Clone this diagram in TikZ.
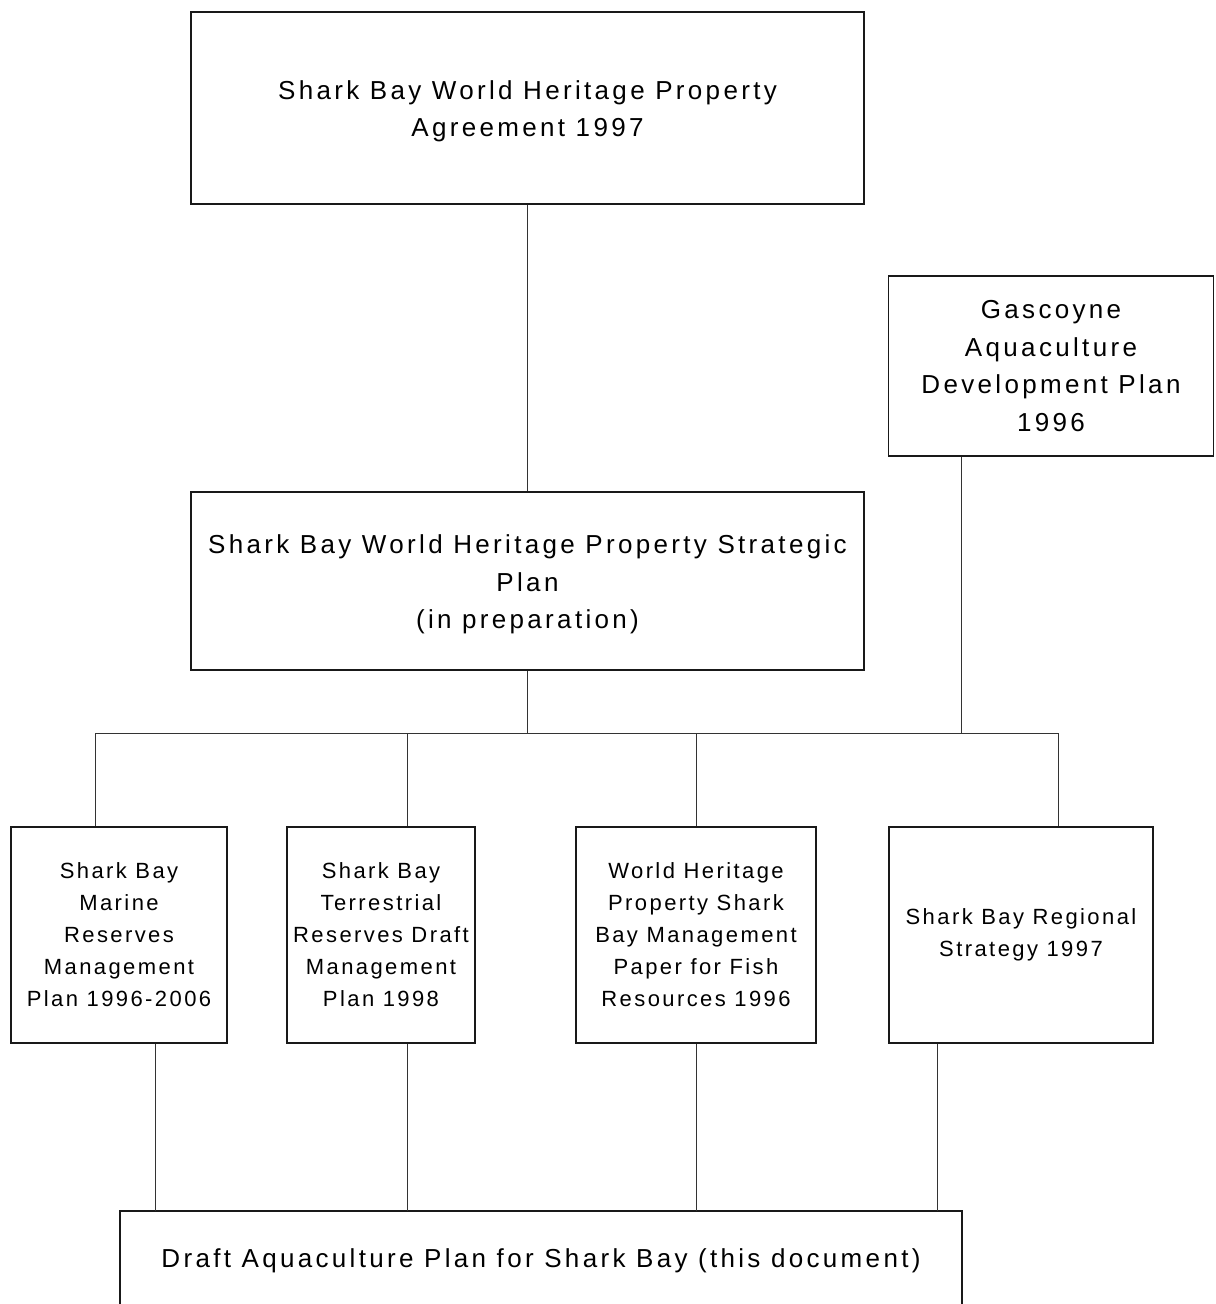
\documentclass[tikz,border=0pt]{standalone}
\usepackage{fontspec}
\setmainfont{Liberation Sans}
\newfontfamily\bigf[LetterSpace=12.8]{Liberation Sans}
\newfontfamily\smallf[LetterSpace=11]{Liberation Sans}
\newcommand{\downstrut}{\rule{0pt}{25.5bp}}
\begin{document}
\begin{tikzpicture}[x=1bp,y=-1bp,
  bigbox/.style={draw=black!90, line width=1.6bp, inner sep=0pt, align=center,
    font=\bigf\fontsize{26bp}{37.6bp}\selectfont},
  smallbox/.style={draw=black!90, line width=1.6bp, inner sep=0pt, align=center,
    font=\smallf\fontsize{22bp}{32bp}\selectfont},
  conn/.style={draw=black!80, line width=1bp}]
\useasboundingbox (0,0) rectangle (1215,1304);
\begin{scope}
\clip (0,0) rectangle (1215,1304);
\node[bigbox, minimum width=673bp, minimum height=192bp] (top) at (527.5,108)
  {\downstrut Shark Bay World Heritage Property\\Agreement 1997};
\node[bigbox, minimum width=325bp, minimum height=180bp] (gas) at (1051,366)
  {Gascoyne\\Aquaculture\\Development Plan\\1996};
\node[bigbox, minimum width=673bp, minimum height=178bp] (strat) at (527.5,581)
  {\downstrut Shark Bay World Heritage Property Strategic\\Plan\\(in preparation)};
\node[smallbox, minimum width=216bp, minimum height=216bp] (b1) at (119,935)
  {Shark Bay\\Marine\\Reserves\\Management\\Plan 1996-2006};
\node[smallbox, minimum width=188bp, minimum height=216bp] (b2) at (381,935)
  {Shark Bay\\Terrestrial\\Reserves Draft\\Management\\Plan 1998};
\node[smallbox, minimum width=240bp, minimum height=216bp] (b3) at (696,935)
  {World Heritage\\Property Shark\\Bay Management\\Paper for Fish\\Resources 1996};
\node[smallbox, minimum width=264bp, minimum height=216bp] (b4) at (1021,935)
  {Shark Bay Regional\\Strategy 1997};
\node[bigbox, minimum width=842bp, minimum height=99bp] (doc) at (541,1260.5)
  {Draft Aquaculture Plan for Shark Bay (this document)};
\end{scope}
% bus coordinates
\coordinate (bus) at (527.5,733);
\coordinate (d1) at (95,733);
\coordinate (d2) at (407,733);
\coordinate (d3) at (696,733);
\coordinate (d4) at (1058,733);
\coordinate (g) at (961,733);
\coordinate (u1) at (155,1211);
\coordinate (u2) at (407,1211);
\coordinate (u3) at (696,1211);
\coordinate (u4) at (937,1211);
\draw[conn] (top.south) -- (strat.north);
\draw[conn] (strat.south) -- (bus);
\draw[conn] (d1) -- (d4);
\draw[conn] (g |- gas.south) -- (g);
\draw[conn] (d1) -- (d1 |- b1.north);
\draw[conn] (d2) -- (d2 |- b2.north);
\draw[conn] (d3) -- (d3 |- b3.north);
\draw[conn] (d4) -- (d4 |- b4.north);
\draw[conn] (u1 |- b1.south) -- (u1);
\draw[conn] (u2 |- b2.south) -- (u2);
\draw[conn] (u3 |- b3.south) -- (u3);
\draw[conn] (u4 |- b4.south) -- (u4);
\end{tikzpicture}
\end{document}
